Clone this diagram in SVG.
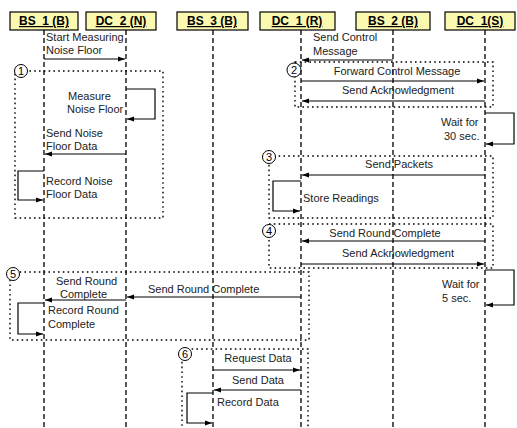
<svg xmlns="http://www.w3.org/2000/svg" width="517" height="428" viewBox="0 0 517 428">
<style>
.hdr{fill:#fbf8b0;stroke:#000;stroke-width:1.2}
.ht{font-family:"Liberation Sans",Arial,sans-serif;font-size:12px;font-weight:bold;text-anchor:middle;text-decoration:underline}
.t{font-family:"Liberation Sans",Arial,sans-serif;font-size:11px;fill:#222}
.tm{text-anchor:middle}
.life{stroke:#000;stroke-width:1.3;stroke-dasharray:5,3;fill:none}
.frag{stroke:#000;stroke-width:1.4;stroke-dasharray:1.6,3.2;fill:none}
.msg{stroke:#000;stroke-width:1.2;fill:none;marker-end:url(#ah)}
.num{fill:#fff;stroke:#000;stroke-width:1}
.nt{font-family:"Liberation Sans",Arial,sans-serif;font-size:11px;text-anchor:middle}
</style>
<defs>
<marker id="ah" markerWidth="8" markerHeight="6" refX="7" refY="3" orient="auto" markerUnits="userSpaceOnUse">
<path d="M0,0.5 L7,3 L0,5.5 Z" fill="#000"/>
</marker>
</defs>
<rect width="517" height="428" fill="#fff"/>

<g id="lifelines">
<line class="life" x1="44" y1="30" x2="44" y2="428"/>
<line class="life" x1="126" y1="30" x2="126" y2="428"/>
<line class="life" x1="213" y1="30" x2="213" y2="428"/>
<line class="life" x1="301" y1="30" x2="301" y2="428"/>
<line class="life" x1="393" y1="30" x2="393" y2="428"/>
<line class="life" x1="485" y1="30" x2="485" y2="428"/>
</g>

<g id="frames">
<rect class="frag" x="15" y="71" width="148" height="147"/>
<rect class="frag" x="295" y="62" width="198" height="45"/>
<rect class="frag" x="269" y="156" width="224" height="62"/>
<rect class="frag" x="269" y="224" width="224" height="44"/>
<rect class="frag" x="10" y="272" width="299" height="68"/>
<rect class="frag" x="182" y="349" width="126" height="90"/>
</g>

<g id="node-bs1"><rect class="hdr" x="10" y="12" width="68" height="18"/><text class="ht" x="44" y="25">BS_1 (B)</text></g>
<g id="node-dc2"><rect class="hdr" x="86" y="12" width="70" height="18"/><text class="ht" x="121" y="25">DC_2 (N)</text></g>
<g id="node-bs3"><rect class="hdr" x="177" y="12" width="71" height="18"/><text class="ht" x="212" y="25">BS_3 (B)</text></g>
<g id="node-dc1r"><rect class="hdr" x="260" y="12" width="75" height="18"/><text class="ht" x="297" y="25">DC_1 (R)</text></g>
<g id="node-bs2"><rect class="hdr" x="356" y="12" width="74" height="18"/><text class="ht" x="393" y="25">BS_2 (B)</text></g>
<g id="node-dc1s"><rect class="hdr" x="445" y="12" width="70" height="18"/><text class="ht" x="480" y="25">DC_1(S)</text></g>

<g id="connectors">
<path class="msg" d="M44,59 H125"/>
<path class="msg" d="M126,89 H155 V119 H127"/>
<path class="msg" d="M126,154 H45"/>
<path class="msg" d="M44,171 H18 V200 H43"/>
<path class="msg" d="M393,60 H302"/>
<path class="msg" d="M301,81 H484"/>
<path class="msg" d="M485,101 H302"/>
<path class="msg" d="M485,113 H514 V144 H486"/>
<path class="msg" d="M485,175 H302"/>
<path class="msg" d="M301,181 H273 V211 H300"/>
<path class="msg" d="M485,241 H302"/>
<path class="msg" d="M301,264 H484"/>
<path class="msg" d="M485,270 H514 V305 H486"/>
<path class="msg" d="M301,297 H127"/>
<path class="msg" d="M126,300 H45"/>
<path class="msg" d="M44,303 H18 V334 H43"/>
<path class="msg" d="M213,370 H300"/>
<path class="msg" d="M301,390 H214"/>
<path class="msg" d="M213,393 H187 V423 H212"/>
</g>

<g id="labels">
<text class="t" x="46" y="41">Start Measuring</text>
<text class="t" x="46" y="54">Noise Floor</text>
<text class="t" x="68" y="100">Measure</text>
<text class="t" x="67" y="113">Noise Floor</text>
<text class="t" x="46" y="137">Send Noise</text>
<text class="t" x="46" y="150">Floor Data</text>
<text class="t" x="46" y="185">Record Noise</text>
<text class="t" x="46" y="198">Floor Data</text>
<text class="t" x="313" y="41">Send Control</text>
<text class="t" x="313" y="55">Message</text>
<text class="t tm" x="397" y="75">Forward Control Message</text>
<text class="t tm" x="398" y="94">Send Acknowledgment</text>
<text class="t" x="441" y="126">Wait for</text>
<text class="t" x="444" y="140">30 sec.</text>
<text class="t tm" x="399" y="168">Send Packets</text>
<text class="t" x="303" y="202">Store Readings</text>
<text class="t tm" x="385" y="237">Send Round Complete</text>
<text class="t tm" x="398" y="257">Send Acknowledgment</text>
<text class="t" x="442" y="288">Wait for</text>
<text class="t" x="442" y="302">5 sec.</text>
<text class="t" x="56" y="285">Send Round</text>
<text class="t" x="60" y="298">Complete</text>
<text class="t" x="148" y="293">Send Round Complete</text>
<text class="t" x="48" y="314">Record Round</text>
<text class="t" x="48" y="328">Complete</text>
<text class="t tm" x="258" y="362">Request Data</text>
<text class="t tm" x="258" y="384">Send Data</text>
<text class="t" x="217" y="406">Record Data</text>
</g>

<g id="markers">
<g id="num-1"><circle class="num" cx="21" cy="71" r="6.5"/><text class="nt" x="21" y="75">1</text></g>
<g id="num-2"><circle class="num" cx="294" cy="70" r="7"/><text class="nt" x="294" y="74">2</text></g>
<g id="num-3"><circle class="num" cx="269" cy="157" r="6.5"/><text class="nt" x="269" y="161">3</text></g>
<g id="num-4"><circle class="num" cx="269" cy="231" r="6.5"/><text class="nt" x="269" y="235">4</text></g>
<g id="num-5"><circle class="num" cx="13" cy="274" r="6.5"/><text class="nt" x="13" y="278">5</text></g>
<g id="num-6"><circle class="num" cx="185" cy="354" r="6.5"/><text class="nt" x="185" y="358">6</text></g>
</g>
</svg>
